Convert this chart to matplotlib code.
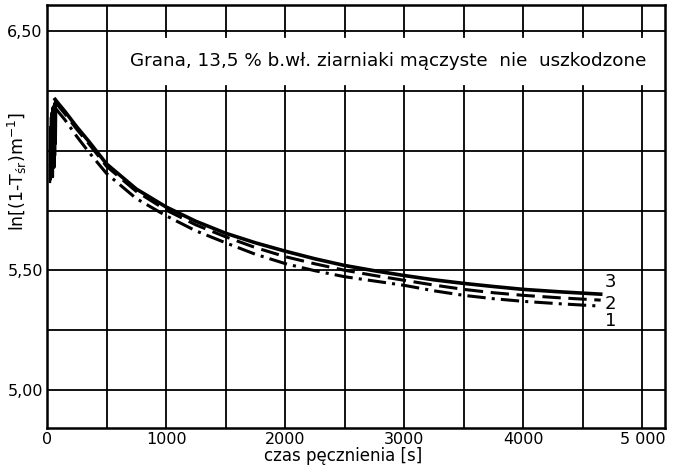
import matplotlib
matplotlib.use("Agg")
import matplotlib.pyplot as plt
from matplotlib.patches import Rectangle

# --- data ---
t_curve = [68, 100, 150, 250, 350, 500, 750, 1000, 1250, 1500, 1750, 2000, 2250,
           2500, 2750, 3000, 3250, 3500, 3750, 4000, 4300, 4650]
curve3 = [6.215, 6.195, 6.165, 6.10, 6.04, 5.945, 5.84, 5.765, 5.705, 5.655, 5.615,
          5.58, 5.548, 5.52, 5.498, 5.478, 5.46, 5.445, 5.432, 5.42, 5.41, 5.40]
curve2 = [6.205, 6.185, 6.155, 6.09, 6.03, 5.935, 5.83, 5.752, 5.69, 5.64, 5.595,
          5.557, 5.527, 5.50, 5.478, 5.458, 5.438, 5.42, 5.406, 5.395, 5.385, 5.375]
curve1 = [6.18, 6.16, 6.13, 6.06, 5.995, 5.905, 5.80, 5.728, 5.665, 5.615, 5.567,
          5.528, 5.498, 5.473, 5.455, 5.437, 5.414, 5.395, 5.381, 5.37, 5.36, 5.35]

# noisy start of the measurement (vertical scatter near t=0)
t_spike = [25, 28, 31, 34, 37, 40, 43, 46, 49, 52, 55, 58, 61, 64, 67, 70, 73, 76, 68]
y_spike = [5.87, 6.10, 5.88, 6.14, 5.90, 6.16, 5.92, 6.18, 5.89, 6.17, 5.95, 6.19,
           5.93, 6.20, 5.98, 6.19, 6.03, 6.16, 6.215]

x_ticks = [0, 1000, 2000, 3000, 4000, 5000]
x_tick_labels = ["0", "1000", "2000", "3000", "4000", "5 000"]
y_ticks = [5.00, 5.50, 6.50]
y_tick_labels = ["5,00", "5,50", "6,50"]
curve_labels = ["1", "2", "3"]
title_text = "Grana, 13,5 % b.wł. ziarniaki mączyste  nie  uszkodzone"

fig = plt.figure(figsize=(6.75, 4.70), dpi=100)
ax = fig.add_axes([47/675, 1-428/470, 618/675, 423/470])
ax.set_xlim(0, 5190)
ax.set_ylim(4.84, 6.61)

# grid
for gx in range(0, 5001, 500):
    ax.axvline(gx, color="black", lw=1.3, zorder=1)
for gy in [5.00, 5.25, 5.50, 5.75, 6.00, 6.25, 6.50]:
    ax.axhline(gy, color="black", lw=1.3, zorder=1)

# white box for the annotation
ax.add_patch(Rectangle((560, 6.256), 5190 - 560, 6.494 - 6.256,
                       facecolor="white", edgecolor="none", zorder=2))
for gx in range(1000, 5001, 500):
    ax.plot([gx, gx], [6.50, 6.478], color="black", lw=1.3, zorder=3)
    ax.plot([gx, gx], [6.25, 6.272], color="black", lw=1.3, zorder=3)
ax.text(700, 6.375, title_text, fontsize=13.2, va="center", ha="left", zorder=4)

# curves
ax.plot(t_spike, y_spike, color="black", lw=1.8, zorder=5)
ax.plot(t_curve, curve3, color="black", lw=2.6, ls="-", zorder=5)
ax.plot(t_curve, curve2, color="black", lw=2.2, ls=(0, (6, 2.5)), zorder=5)
ax.plot(t_curve, curve1, color="black", lw=2.2, ls=(0, (6, 2, 1, 2)), zorder=5)

for lab, yy in zip(curve_labels, [5.287, 5.358, 5.45]):
    ax.text(4730, yy, lab, fontsize=13, ha="center", va="center", zorder=6)

ax.set_xticks(x_ticks)
ax.set_xticklabels(x_tick_labels, fontsize=11.5)
ax.set_yticks(y_ticks)
ax.set_yticklabels(y_tick_labels, fontsize=11.5)
ax.tick_params(length=0, pad=3)

fig.text(343 / 675, 1 - 456 / 470, "czas pęcznienia [s]", fontsize=12,
         ha="center", va="center")

fig.text(17 / 675, 1 - 171 / 470,
         r"ln[(1-T$_{\mathregular{śr}}$)m$^{\mathregular{-1}}$]",
         fontsize=12.5, rotation=90, ha="center", va="center")

for s in ax.spines.values():
    s.set_linewidth(1.8)

fig.savefig("out.png", dpi=100)
